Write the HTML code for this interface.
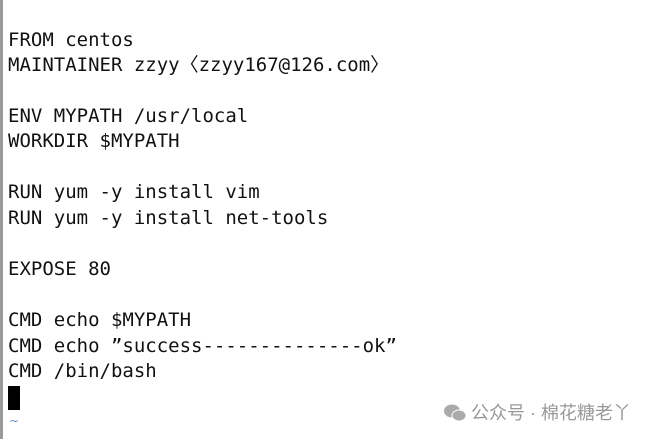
<!DOCTYPE html>
<html><head><meta charset="utf-8"><style>
html,body{margin:0;padding:0;background:#fff;width:662px;height:439px;overflow:hidden;position:relative}
.bar{position:absolute;left:0;top:0;width:3px;height:439px;background:#9a9a9a}
.t{position:absolute;left:8px;font-family:"DejaVu Sans Mono","Liberation Mono",monospace;font-size:19px;color:#111;white-space:pre;line-height:22px}
.cur{position:absolute;left:8px;top:386px;width:12px;height:24px;background:#000}
.tl{position:absolute;left:9px;top:414px;color:#6a8fd0;font-size:12px;font-family:"DejaVu Sans",sans-serif}
.wm{position:absolute;left:444px;top:399px;font-family:"Liberation Sans","Noto Sans CJK SC",sans-serif;font-size:18px;color:#999}
</style></head><body>
<div class="bar"></div>
<div class="t" style="top:29px">FROM centos</div>
<div class="t" style="top:54px">MAINTAINER zzyy〈zzyy167@126.com〉</div>
<div class="t" style="top:105px">ENV MYPATH /usr/local</div>
<div class="t" style="top:130px">WORKDIR $MYPATH</div>
<div class="t" style="top:181px">RUN yum -y install vim</div>
<div class="t" style="top:207px">RUN yum -y install net-tools</div>
<div class="t" style="top:258px">EXPOSE 80</div>
<div class="t" style="top:309px">CMD echo $MYPATH</div>
<div class="t" style="top:335px">CMD echo ”success--------------ok”</div>
<div class="t" style="top:360px">CMD /bin/bash</div>
<div class="cur"></div>
<div class="tl">~</div>
<div class="wm"><svg width="22" height="18" viewBox="0 0 22 18" style="vertical-align:-3px"><ellipse cx="8" cy="7" rx="8" ry="6.5" fill="#aaa"/><ellipse cx="15" cy="11.5" rx="7" ry="5.5" fill="#aaa" stroke="#fff" stroke-width="1"/></svg> 公众号 · 棉花糖老丫</div>
</body></html>
